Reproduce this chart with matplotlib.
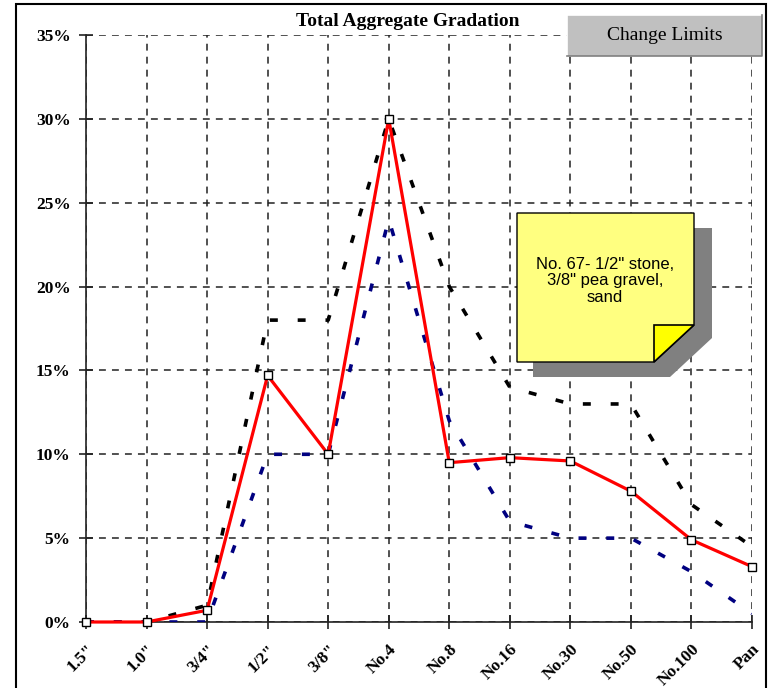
import matplotlib
matplotlib.use('Agg')
import matplotlib.pyplot as plt
from matplotlib.patches import Polygon, Rectangle
from matplotlib.lines import Line2D
from matplotlib.ticker import PercentFormatter

sieves = ['1.5"', '1.0"', '3/4"', '1/2"', '3/8"', 'No.4', 'No.8',
          'No.16', 'No.30', 'No.50', 'No.100', 'Pan']
blend = [0.0, 0.0, 0.7, 14.7, 10.0, 30.0, 9.5, 9.8, 9.6, 7.8, 4.9, 3.3]
upper_limit = [0.0, 0.0, 1.0, 18.0, 18.0, 30.0, 20.0, 14.0, 13.0, 13.0, 7.0, 4.5]
lower_limit = [0.0, 0.0, 0.0, 10.0, 10.0, 24.0, 12.0, 6.0, 5.0, 5.0, 3.0, 0.5]

W, H = 768, 688


def px(x, y):
    return (x / W, 1 - y / H)


fig = plt.figure(figsize=(7.68, 6.88), dpi=100)
fig.patch.set_facecolor('white')

left, top = px(86, 35)
right, bottom = px(752, 622)
ax = fig.add_axes([left, bottom, right - left, top - bottom])

xs = list(range(len(sieves)))
ax.plot(xs, [v / 100 for v in upper_limit], color='black', lw=2.6,
        linestyle=(0, (2.2, 5.5)), zorder=3)
ax.plot(xs, [v / 100 for v in lower_limit], color='#000080', lw=2.6,
        linestyle=(0, (2.2, 5.5)), zorder=3)
ax.plot(xs, [v / 100 for v in blend], color='red', lw=2.3, marker='s',
        markersize=6, markerfacecolor='white', markeredgecolor='black',
        markeredgewidth=1.0, zorder=5, clip_on=False)

ax.set_xlim(0, len(sieves) - 1)
ax.set_ylim(0, 0.35)
ax.set_yticks([i * 0.05 for i in range(8)])
ax.yaxis.set_major_formatter(PercentFormatter(1, decimals=0))
ax.set_xticks(xs)
ax.set_xticklabels(sieves, rotation=45, ha='right', va='top',
                   rotation_mode='anchor')

for lab in ax.get_xticklabels() + ax.get_yticklabels():
    lab.set_fontfamily('Liberation Serif')
    lab.set_fontweight('bold')
    lab.set_fontsize(12.5)

ax.tick_params(axis='both', direction='inout', length=10, width=1.2,
               color='#222222')
ax.tick_params(axis='x', pad=9)
ax.tick_params(axis='y', pad=6)

ax.grid(True, color='#222222', linestyle=(0, (4.5, 4)), lw=1.1)
ax.set_axisbelow(True)
for s in ['top', 'right']:
    ax.spines[s].set_visible(False)
for s in ['left', 'bottom']:
    ax.spines[s].set_color('#222222')
    ax.spines[s].set_linewidth(1.2)

fig.text(*px(408, 22), 'Total Aggregate Gradation', ha='center',
         va='center', fontfamily='Liberation Serif', fontweight='bold',
         fontsize=14)

# change limits button
x0, y0 = px(567, 56)
x1, y1 = px(762, 15)
fig.add_artist(Rectangle((x0, y0), x1 - x0, y1 - y0, transform=fig.transFigure,
                         facecolor='#c0c0c0', edgecolor='none', zorder=10))
fig.add_artist(Line2D([x0, x0, x1], [y0, y1, y1], transform=fig.transFigure,
                      color='white', lw=1.2, zorder=11))
fig.add_artist(Line2D([x0, x1, x1], [y0, y0, y1], transform=fig.transFigure,
                      color='#808080', lw=1.2, zorder=11))
fig.text(*px(665, 36), 'Change Limits', ha='center', va='center',
         fontfamily='Liberation Serif', fontsize=14, zorder=12)

# sticky note
shadow = [px(533, 228), px(712, 228), px(712, 338), px(670, 377), px(533, 377)]
fig.add_artist(Polygon(shadow, closed=True, transform=fig.transFigure,
                       facecolor='#808080', edgecolor='none', zorder=10))
note = [px(517, 213), px(694, 213), px(694, 325), px(654, 362), px(517, 362)]
fig.add_artist(Polygon(note, closed=True, transform=fig.transFigure,
                       facecolor='#ffff80', edgecolor='black', lw=1.0, zorder=11))
fold = [px(654, 325), px(694, 325), px(654, 362)]
fig.add_artist(Polygon(fold, closed=True, transform=fig.transFigure,
                       facecolor='#ffff00', edgecolor='black', lw=1.2, zorder=12))
fig.text(*px(605, 281), 'No. 67- 1/2" stone,\n3/8" pea gravel,\nsand',
         ha='center', va='center', fontfamily='Liberation Sans', fontsize=12,
         linespacing=1.15, zorder=13)

# outer frame
bx0, by0 = px(16, 700)
bx1, by1 = px(766, 4)
fig.add_artist(Rectangle((bx0, by0), bx1 - bx0, by1 - by0,
                         transform=fig.transFigure, facecolor='none',
                         edgecolor='black', lw=1.5, zorder=20))

fig.savefig('out.png', dpi=100)
